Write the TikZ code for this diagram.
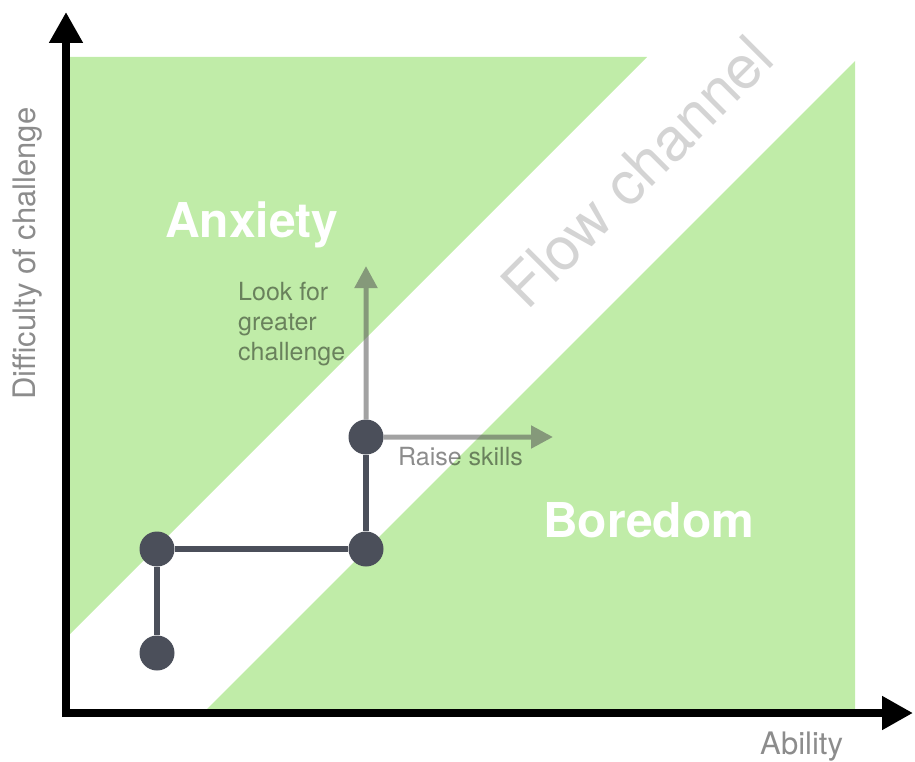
\documentclass[tikz,border=0pt]{standalone}
\usepackage{fontspec}
\setmainfont{TeX Gyre Heros}
\usetikzlibrary{arrows.meta}

\definecolor{zone}{RGB}{192,236,168}
\definecolor{dotc}{RGB}{75,79,90}
\definecolor{hintgray}{RGB}{85,85,85}
\definecolor{axislabel}{RGB}{140,140,140}
\definecolor{chan}{RGB}{212,212,212}

\begin{document}
\begin{tikzpicture}[x=1pt,y=-1pt,
  axisline/.style={line width=8pt,-{Triangle[length=31pt,width=32pt]}},
  state/.style={circle,fill=dotc,minimum size=35pt,inner sep=0pt},
  trail/.style={draw=dotc,line width=6pt},
  hintarrow/.style={draw=hintgray,line width=5pt,
    -{Triangle[length=22pt,width=22pt]}},
  hinttext/.style={text=black,text opacity=0.45,font=\fontsize{25}{30}\selectfont,
    inner sep=0pt,align=left},
  zonelabel/.style={text=white,font=\bfseries\fontsize{48}{48}\selectfont,inner sep=0pt},
  axistext/.style={text=axislabel,font=\fontsize{31}{31}\selectfont,inner sep=0pt}]

\useasboundingbox (0,0) rectangle (915,762);

% green zones on either side of the flow channel
\fill[zone] (66,57) -- (647,57) -- (66,638) -- cycle;
\fill[zone] (207,709) -- (855,61) -- (855,709) -- cycle;

% channel label
\node[text=chan,font=\fontsize{60}{60}\selectfont,rotate=45,inner sep=0pt] (flow) at (637,172) {Flow channel};

% zone labels
\node[zonelabel,anchor=base west] (anxiety) at (165,237) {Anxiety};
\node[zonelabel,anchor=base west] (boredom) at (543,537) {Boredom};

% axes
\coordinate (origin) at (66,713);
\coordinate (ytip) at (66,12);
\coordinate (xtip) at (913,713);
\draw[axisline] (66,717) -- (ytip);
\draw[axisline] (62,713) -- (xtip);

\node[axistext,anchor=base west,rotate=90] (ylabel) at (35,400) {Difficulty of challenge};
\node[axistext,anchor=base west] (xlabel) at (760,754) {Ability};

% states along the path
\node[state] (s1) at (157,653) {};
\node[state] (s2) at (157,549) {};
\node[state] (s3) at (366,549) {};
\node[state] (s4) at (366,437) {};

\draw[trail] (s1) -- (s2);
\draw[trail] (s2) -- (s3);
\draw[trail] (s3) -- (s4);

% next possible moves, drawn as one translucent group
\coordinate (up) at (366,266);
\coordinate (right) at (553,437);
\begin{scope}[transparency group,opacity=0.55]
  \draw[hintarrow] (s4.north) -- (up);
  \draw[hintarrow] (s4.east) -- (right);
\end{scope}

\node[hinttext,anchor=base west] (look) at (238,360) {Look for\\greater\\challenge};
\node[hinttext,anchor=base west] (raise) at (398,465) {Raise skills};

\end{tikzpicture}
\end{document}
